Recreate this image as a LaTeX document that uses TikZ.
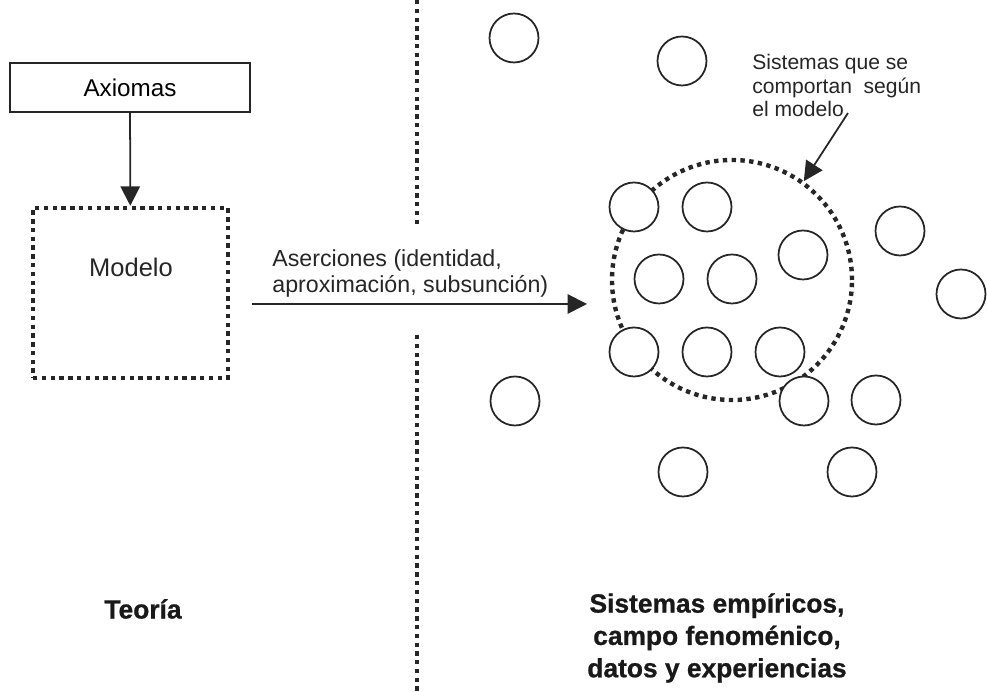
\documentclass[tikz,border=0pt]{standalone}
\usepackage{fontspec}
\setmainfont{Liberation Sans}
\newfontfamily\heavyfont{Liberation Sans Bold}[FakeBold=0.8]
\usetikzlibrary{arrows.meta, positioning}

\begin{document}
\begin{tikzpicture}[auto,
  plainbox/.style={rectangle, draw=black!85, line width=1pt, minimum width=4.8cm, minimum height=0.98cm, font=\fontsize{13.8}{15}\selectfont},
  dotbox/.style={rectangle, draw=black!85, line width=2.5pt, dash pattern=on 2.5pt off 2.5pt, minimum width=3.9cm, minimum height=3.4cm},
  dotline/.style={draw=black!85, line width=2.5pt, dash pattern=on 2.5pt off 2.5pt},
  dotring/.style={circle, draw=black!85, line width=2.5pt, dash pattern=on 2.5pt off 2.5pt, minimum size=4.8cm},
  sys/.style={circle, draw=black!85, line width=1pt, fill=white, minimum size=0.98cm},
  note/.style={align=left, inner sep=0pt, text=black!85},
  title/.style={align=center, text=black!90, font=\heavyfont\fontsize{15}{18.4}\selectfont},
  arrow/.style={line width=1pt, draw=black!85, -{Triangle[length=11pt, width=11pt]}}]

\useasboundingbox (0,0) rectangle (19.74,13.84);

% theory side
\node[plainbox] (axiomas) at (2.6, 12.09) {Axiomas};
\node[dotbox] (modelo) at (2.61, 7.98) {};
\node[note, font=\fontsize{14.5}{16}\selectfont] (modelotxt) at (2.62, 8.50) {Modelo};
\draw[arrow] (axiomas) -- (modelo);

% divider
\coordinate (divtop) at (8.34, 13.84);
\coordinate (divgapa) at (8.34, 9.28);
\coordinate (divgapb) at (8.34, 7.14);
\coordinate (divbot) at (8.34, 0);
\draw[dotline] (divtop) -- (divgapa);
\draw[dotline] (divgapb) -- (divbot);

% assertions
\coordinate (aserfrom) at (5.04, 7.76);
\coordinate (aserto) at (11.74, 7.76);
\node[note, font=\fontsize{13.2}{14.9}\selectfont, anchor=west] (aser) at (5.44, 8.37) {Aserciones (identidad,\\aproximación, subsunción)};
\draw[arrow] (aserfrom) -- (aserto);

% empirical systems
\node[dotring] (modelset) at (14.64, 8.24) {};

\node[sys] (s1) at (10.28, 13.08) {};
\node[sys] (s2) at (13.64, 12.62) {};
\node[sys] (s3) at (12.68, 9.70) {};
\node[sys] (s4) at (14.14, 9.70) {};
\node[sys] (s5) at (16.06, 8.74) {};
\node[sys] (s6) at (18.00, 9.22) {};
\node[sys] (s7) at (13.18, 8.26) {};
\node[sys] (s8) at (14.64, 8.26) {};
\node[sys] (s9) at (19.22, 7.96) {};
\node[sys] (s10) at (12.68, 6.80) {};
\node[sys] (s11) at (14.14, 6.80) {};
\node[sys] (s12) at (15.60, 6.80) {};
\node[sys] (s13) at (10.30, 5.82) {};
\node[sys] (s14) at (16.08, 5.82) {};
\node[sys] (s15) at (17.52, 5.84) {};
\node[sys] (s16) at (13.66, 4.40) {};
\node[sys] (s17) at (17.04, 4.40) {};

\node[note, font=\fontsize{12}{13.6}\selectfont, anchor=west] (comporta) at (15.04, 12.13) {Sistemas que se\\comportan\ \ según\\el modelo};
\coordinate (comportafrom) at (16.96, 11.58);
\draw[arrow] (comportafrom) -- (modelset.54);

% captions
\node[title] (teoria) at (2.86, 1.66) {Teoría};
\node[title] (empirico) at (14.34, 1.08) {Sistemas empíricos,\\campo fenoménico,\\datos y experiencias};

\end{tikzpicture}
\end{document}
